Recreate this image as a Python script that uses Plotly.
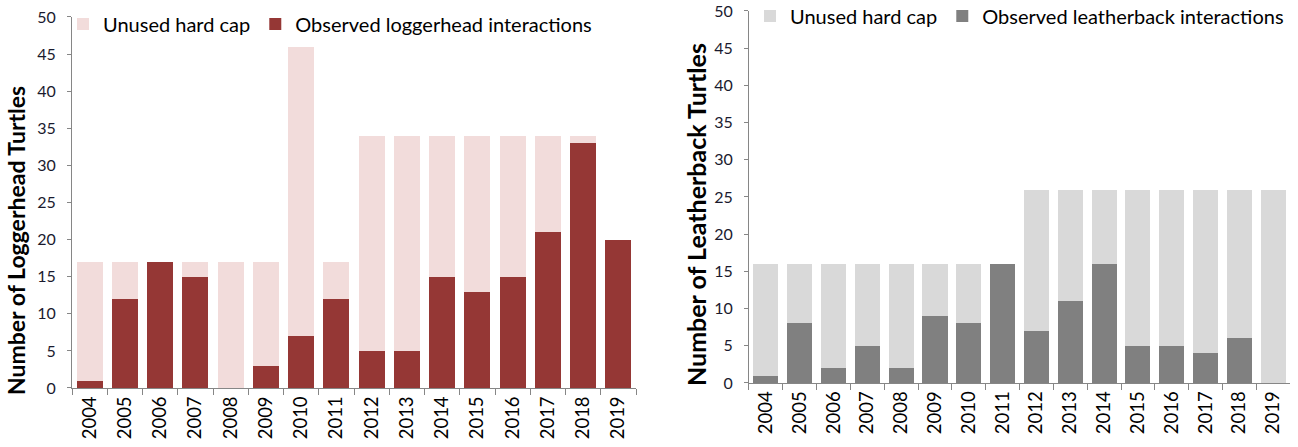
import plotly.graph_objects as go

years = [str(y) for y in range(2004, 2020)]

# Loggerhead
logger_observed = [1, 12, 17, 15, 0, 3, 7, 12, 5, 5, 15, 13, 15, 21, 33, 20]
logger_unused = [16, 5, 0, 2, 17, 14, 39, 5, 29, 29, 19, 21, 19, 13, 1, 0]

# Leatherback
leather_observed = [1, 8, 2, 5, 2, 9, 8, 16, 7, 11, 16, 5, 5, 4, 6, 0]
leather_unused = [15, 8, 14, 11, 14, 7, 8, 0, 19, 15, 10, 21, 21, 22, 20, 26]

y_ticks = list(range(0, 51, 5))

FONT = "Lato, Liberation Sans, sans-serif"
DARK_RED = "#953735"
PINK = "#F2DCDB"
DARK_GRAY = "#808080"
LIGHT_GRAY = "#D9D9D9"

fig = go.Figure()
fig.add_trace(go.Bar(x=years, y=logger_observed, name="Observed loggerhead interactions",
                     marker=dict(color=DARK_RED, line=dict(width=0)),
                     xaxis="x", yaxis="y", legend="legend", legendrank=2))
fig.add_trace(go.Bar(x=years, y=logger_unused, name="Unused hard cap",
                     marker=dict(color=PINK, line=dict(width=0)),
                     xaxis="x", yaxis="y", legend="legend", legendrank=1))
fig.add_trace(go.Bar(x=years, y=leather_observed, name="Observed leatherback interactions",
                     marker=dict(color=DARK_GRAY, line=dict(width=0)),
                     xaxis="x2", yaxis="y2", legend="legend2", legendrank=2))
fig.add_trace(go.Bar(x=years, y=leather_unused, name="Unused hard cap",
                     marker=dict(color=LIGHT_GRAY, line=dict(width=0)),
                     xaxis="x2", yaxis="y2", legend="legend2", legendrank=1))

xcommon = dict(type="category", showline=True, linecolor="#868686", linewidth=1,
               ticks="outside", tickson="boundaries", ticklen=6, tickcolor="#868686",
               tickangle=-90, tickfont=dict(family=FONT, size=18.5, color="#000000"),
               showgrid=False, zeroline=False, automargin=False)
ycommon = dict(range=[0, 50], tickvals=y_ticks, showline=True, linecolor="#868686",
               linewidth=1, ticks="outside", ticklen=4, tickcolor="#868686",
               ticklabelstandoff=8,
               tickfont=dict(family=FONT, size=16, color="#1a1a2e"),
               showgrid=False, zeroline=False, automargin=False)

fig.update_layout(
    width=1298, height=447,
    margin=dict(l=0, r=0, t=0, b=0, autoexpand=False),
    paper_bgcolor="white", plot_bgcolor="white",
    barmode="stack", bargap=0.26,
    font=dict(family=FONT),
    xaxis=dict(domain=[0.0555, 0.490], anchor="y", **xcommon),
    yaxis=dict(domain=[0.132, 0.962], anchor="x", **ycommon),
    xaxis2=dict(domain=[0.577, 0.994], anchor="y2", **xcommon),
    yaxis2=dict(domain=[0.1432, 0.9754], anchor="x2", **ycommon),
    legend=dict(orientation="h", x=63 / 1298, y=1 - 24 / 447, xanchor="left", yanchor="middle",
                font=dict(family=FONT, size=20, color="#000000"),
                bgcolor="rgba(255,255,255,0)", itemwidth=30, tracegroupgap=0,
                traceorder="normal"),
    legend2=dict(orientation="h", x=750 / 1298, y=1 - 16 / 447, xanchor="left", yanchor="middle",
                 font=dict(family=FONT, size=20, color="#000000"),
                 bgcolor="rgba(255,255,255,0)", itemwidth=30, tracegroupgap=0,
                 traceorder="normal"),
    annotations=[
        dict(text="<b>Number of Loggerhead Turtles</b>", textangle=-90,
             x=16 / 1298, y=1 - 241 / 447, xref="paper", yref="paper",
             xanchor="center", yanchor="middle", showarrow=False,
             font=dict(family=FONT, size=23, color="#000000")),
        dict(text="<b>Number of Leatherback Turtles</b>", textangle=-90,
             x=696 / 1298, y=1 - 215 / 447, xref="paper", yref="paper",
             xanchor="center", yanchor="middle", showarrow=False,
             font=dict(family=FONT, size=25, color="#000000")),
    ],
    showlegend=True,
)

fig.write_html("out.html", config={"displayModeBar": False},
               post_script="document.body.style.margin='0';document.body.style.padding='0';")
